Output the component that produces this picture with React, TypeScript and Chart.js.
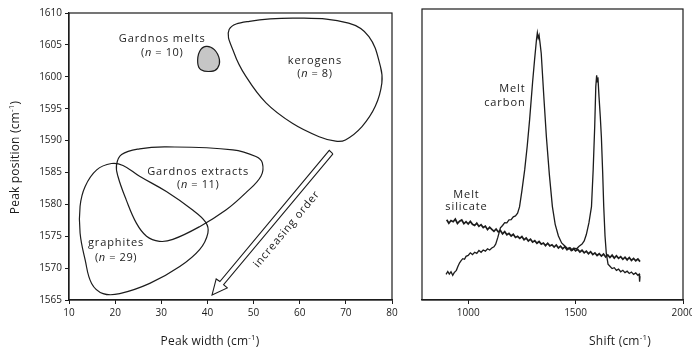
import React, { useEffect, useRef } from "react";
import { Chart, registerables } from "chart.js";
Chart.register(...registerables);

const FONT = '"Open Sans", "DejaVu Sans", sans-serif';
const INK = "#1c1c1c";

// ---------- Left panel data (peak width vs peak position) ----------
const widthTicks = [10, 20, 30, 40, 50, 60, 70, 80];
const positionTicks = [1565, 1570, 1575, 1580, 1585, 1590, 1595, 1600, 1605, 1610];

const kerogensOutline: [number, number][] = [
  [44.7, 1607.4], [49.1, 1608.7], [59.9, 1609.2], [70.6, 1608.4], [75.0, 1606.3],
  [77.5, 1601.6], [77.8, 1599.0], [76.4, 1595.4], [73.5, 1592.2], [69.9, 1590.1],
  [67.8, 1589.9], [64.2, 1590.6], [58.4, 1592.7], [52.7, 1595.9], [48.3, 1600.1],
  [45.8, 1603.7],
];
const meltsOutline: [number, number][] = [
  [39.7, 1604.77], [41.5, 1604.25], [42.6, 1602.68], [42.2, 1601.37],
  [40.8, 1600.85], [38.6, 1601.1], [37.9, 1602.15], [38.3, 1603.98],
];
const extractsOutline: [number, number][] = [
  [20.3, 1586.2], [21.4, 1587.8], [25.3, 1588.7], [31.1, 1589.0], [45.5, 1588.55],
  [50.5, 1587.5], [51.9, 1586.5], [51.6, 1584.4], [48.3, 1581.8], [44.0, 1579.1],
  [38.3, 1576.5], [32.5, 1574.5], [29.6, 1574.2], [26.8, 1575.0], [24.6, 1577.05],
  [22.4, 1580.7], [20.6, 1584.4],
];
const graphitesOutline: [number, number][] = [
  [19.2, 1586.4], [16.0, 1585.4], [13.5, 1582.8], [12.4, 1579.7], [12.4, 1575.5],
  [13.5, 1571.3], [14.9, 1567.6], [17.4, 1566.0], [21.0, 1566.0], [27.5, 1567.6],
  [34.0, 1570.25], [38.3, 1572.9], [40.1, 1575.5], [39.6, 1577.2], [36.8, 1579.1],
  [31.1, 1582.0], [25.3, 1584.4], [21.7, 1586.1],
];
const arrowOutline: [number, number][] = [
  [67.2, 1587.9], [43.5, 1567.4], [44.3, 1566.9], [41.0, 1565.8],
  [41.9, 1568.3], [42.7, 1567.9], [66.4, 1588.46],
];

// ---------- Right panel data (Raman spectra) ----------
const shiftTicks = [1000, 1500, 2000];
const meltCarbon: [number, number][] = [
  [897, 8.8], [905, 9.8], [912, 8.9], [920, 9.7], [928, 8.5], [935, 9.4], [945, 10.2],
  [952, 11.5], [960, 12.8], [968, 13.6], [975, 14.2], [983, 14.0], [990, 15.0],
  [1000, 15.3], [1010, 16.2], [1020, 15.6], [1030, 16.4], [1040, 16.0], [1050, 17.0],
  [1060, 16.4], [1070, 17.2], [1080, 16.8], [1090, 17.6], [1100, 17.2], [1110, 17.9],
  [1120, 18.3], [1128, 19.2], [1138, 21.5], [1150, 24.8], [1160, 25.6], [1170, 26.6],
  [1180, 26.5], [1190, 27.5], [1200, 27.6], [1210, 28.6], [1220, 28.9], [1230, 29.8],
  [1239, 32.0], [1250, 37.5], [1263, 44.7], [1275, 53.0], [1286, 62.0], [1300, 75.0],
  [1309, 82.5], [1318, 89.5], [1322, 91.8], [1326, 90.0], [1330, 91.0], [1335, 88.0],
  [1340, 84.8], [1352, 70.0], [1364, 56.1], [1378, 43.0], [1392, 32.1], [1405, 26.0],
  [1420, 22.0], [1435, 19.6], [1445, 18.9], [1455, 18.2], [1465, 17.5], [1475, 17.9],
  [1485, 17.1], [1495, 17.8], [1505, 17.6], [1515, 18.4], [1530, 19.2], [1540, 20.3],
  [1550, 22.5], [1562, 26.5], [1574, 32.1], [1582, 45.0], [1589, 59.6], [1594, 73.3],
  [1598, 77.2], [1601, 75.0], [1604, 76.5], [1609, 69.9], [1615, 63.0], [1620, 56.1],
  [1626, 44.0], [1631, 32.1], [1637, 22.0], [1643, 16.0], [1651, 12.3], [1660, 11.6],
  [1670, 10.8], [1680, 11.1], [1690, 10.2], [1700, 10.6], [1710, 9.7], [1720, 10.2],
  [1730, 9.4], [1740, 9.9], [1750, 9.1], [1760, 9.6], [1770, 8.8], [1780, 9.3],
  [1790, 8.5], [1796, 8.9], [1798, 6.3], [1800, 8.2],
];
const meltSilicate: [number, number][] = [
  [900, 27.6], [910, 26.4], [920, 27.3], [930, 26.9], [940, 27.8], [950, 26.3],
  [960, 27.1], [970, 27.5], [980, 26.2], [990, 26.9], [1000, 26.1], [1010, 27.0],
  [1020, 26.0], [1030, 25.6], [1040, 26.4], [1050, 25.3], [1060, 25.9], [1070, 24.9],
  [1080, 25.4], [1090, 24.2], [1100, 25.0], [1110, 24.3], [1120, 23.6], [1130, 24.4],
  [1140, 23.4], [1150, 23.9], [1160, 22.7], [1170, 23.5], [1180, 22.4], [1190, 22.9],
  [1200, 22.0], [1210, 22.6], [1220, 21.5], [1230, 21.9], [1240, 21.2], [1250, 21.8],
  [1260, 20.7], [1270, 21.3], [1280, 20.3], [1290, 20.9], [1300, 19.9], [1310, 20.4],
  [1320, 19.5], [1330, 20.1], [1340, 19.2], [1350, 19.6], [1360, 18.7], [1370, 19.5],
  [1380, 18.6], [1390, 19.0], [1400, 18.2], [1410, 18.9], [1420, 17.9], [1430, 18.5],
  [1440, 17.6], [1450, 18.3], [1460, 17.3], [1470, 17.9], [1480, 17.0], [1490, 17.7],
  [1500, 16.9], [1510, 17.4], [1520, 16.5], [1530, 17.1], [1540, 16.2], [1550, 16.8],
  [1560, 15.9], [1570, 16.6], [1580, 15.6], [1590, 16.2], [1600, 15.3], [1610, 15.9],
  [1620, 15.1], [1630, 15.8], [1640, 14.8], [1650, 15.5], [1660, 14.6], [1670, 15.4],
  [1680, 14.4], [1690, 15.2], [1700, 14.3], [1710, 14.9], [1720, 14.0], [1730, 14.7],
  [1740, 13.8], [1750, 14.6], [1760, 13.6], [1770, 14.3], [1780, 13.5], [1790, 14.1],
  [1800, 13.2],
];

// ---------- helpers ----------
type Part = { t: string; italic?: boolean; sup?: boolean };

function drawRich(
  ctx: CanvasRenderingContext2D,
  parts: Part[],
  x: number,
  y: number,
  size: number,
  spacing = 0,
  align: "center" | "left" | "right" = "center"
) {
  const fontFor = (p: Part) =>
    `${p.italic ? "italic " : ""}${p.sup ? Math.round(size * 0.68) : size}px ${FONT}`;
  (ctx as any).letterSpacing = spacing + "px";
  ctx.textAlign = "left";
  ctx.textBaseline = "middle";
  let total = 0;
  const widths = parts.map((p) => {
    ctx.font = fontFor(p);
    const w = ctx.measureText(p.t).width;
    total += w;
    return w;
  });
  let cx = align === "center" ? x - total / 2 : align === "right" ? x - total : x;
  parts.forEach((p, i) => {
    ctx.font = fontFor(p);
    ctx.fillText(p.t, cx, p.sup ? y - size * 0.38 : y);
    cx += widths[i];
  });
  (ctx as any).letterSpacing = "0px";
}

const toXY = (pts: [number, number][]) => pts.map(([x, y]) => ({ x, y }));

function closedSmooth(pts: [number, number][]) {
  const n = pts.length;
  return toXY([pts[n - 1], ...pts, pts[0], pts[1]]);
}

function outlineDataset(pts: [number, number][], fillColor?: string) {
  const data = closedSmooth(pts);
  const last = data.length - 1;
  return {
    data,
    showLine: true,
    pointRadius: 0,
    borderColor: INK,
    borderWidth: 1.2,
    tension: 0.4,
    fill: fillColor ? "shape" : false,
    backgroundColor: fillColor || "rgba(0,0,0,0)",
    segment: {
      borderColor: (c: any) =>
        c.p0DataIndex === 0 || c.p1DataIndex === last ? "rgba(0,0,0,0)" : undefined,
    },
  };
}

const framePlugin = {
  id: "frame",
  afterDatasetsDraw(chart: any) {
    const { ctx, chartArea } = chart;
    const { left, top, right, bottom } = chartArea;
    ctx.save();
    ctx.strokeStyle = INK;
    ctx.lineWidth = 1.2;
    ctx.strokeRect(left, top, right - left, bottom - top);
    ctx.restore();
  },
};

const leftTextPlugin = {
  id: "leftText",
  afterDraw(chart: any) {
    const { ctx, scales } = chart;
    const X = (v: number) => scales.x.getPixelForValue(v);
    const Y = (v: number) => scales.y.getPixelForValue(v);
    ctx.save();
    ctx.fillStyle = INK;
    const label = (a: string, n: string, x: number, y1: number, y2: number) => {
      drawRich(ctx, [{ t: a }], X(x), Y(y1), 11, 0.9);
      drawRich(ctx, [{ t: "(" }, { t: "n", italic: true }, { t: " = " + n + ")" }], X(x), Y(y2), 11, 0.6);
    };
    label("Gardnos melts", "10", 30.2, 1605.9, 1603.7);
    label("kerogens", "8", 63.3, 1602.5, 1600.4);
    label("Gardnos extracts", "11", 38.0, 1585.1, 1583.0);
    label("graphites", "29", 20.2, 1573.9, 1571.6);

    ctx.save();
    ctx.translate(X(57.2), Y(1576.1));
    ctx.rotate((-50 * Math.PI) / 180);
    drawRich(ctx, [{ t: "increasing order" }], 0, 0, 11, 0.8);
    ctx.restore();

    const ca = chart.chartArea;
    drawRich(ctx, [{ t: "Peak width (cm" }, { t: "-1", sup: true }, { t: ")" }], 210, 342, 12, 0.2);
    ctx.save();
    ctx.translate(16, (ca.top + ca.bottom) / 2 + 1);
    ctx.rotate(-Math.PI / 2);
    drawRich(ctx, [{ t: "Peak position (cm" }, { t: "-1", sup: true }, { t: ")" }], 0, 0, 12, 0.2);
    ctx.restore();
    ctx.restore();
  },
};

const rightTextPlugin = {
  id: "rightText",
  afterDraw(chart: any) {
    const { ctx, scales } = chart;
    const X = (v: number) => scales.x.getPixelForValue(v);
    const Y = (v: number) => scales.y.getPixelForValue(v);
    ctx.save();
    ctx.fillStyle = INK;
    drawRich(ctx, [{ t: "Melt" }], X(1267), Y(72.4), 11, 0.9, "right");
    drawRich(ctx, [{ t: "carbon" }], X(1267), Y(67.8), 11, 0.9, "right");
    drawRich(ctx, [{ t: "Melt" }], X(992), Y(36.3), 11, 0.9);
    drawRich(ctx, [{ t: "silicate" }], X(992), Y(31.9), 11, 0.9);
    drawRich(ctx, [{ t: "Shift (cm" }, { t: "-1", sup: true }, { t: ")" }], 220, 342, 12, 0.2);
    ctx.restore();
  },
};

const tickFont = { size: 10, family: FONT };
const plainTick = (v: any) => String(v);

function LeftPanel() {
  const ref = useRef<HTMLCanvasElement>(null);
  useEffect(() => {
    const chart = new Chart(ref.current!, {
      type: "scatter",
      data: {
        datasets: [
          outlineDataset(meltsOutline, "#c6c6c6"),
          outlineDataset(kerogensOutline),
          outlineDataset(extractsOutline),
          outlineDataset(graphitesOutline),
          {
            data: toXY([...arrowOutline, arrowOutline[0]]),
            showLine: true,
            pointRadius: 0,
            borderColor: INK,
            borderWidth: 1.1,
            tension: 0,
            fill: false,
          },
        ] as any,
      },
      options: {
        responsive: false,
        animation: false,
        devicePixelRatio: 1,
        layout: { padding: { top: 13, right: 8, left: 0, bottom: 0 } },
        plugins: { legend: { display: false }, tooltip: { enabled: false } },
        scales: {
          x: {
            type: "linear",
            min: widthTicks[0],
            max: widthTicks[widthTicks.length - 1],
            afterBuildTicks: (s: any) => {
              s.ticks = widthTicks.map((v) => ({ value: v }));
            },
            ticks: { font: tickFont, color: INK, padding: 3, maxRotation: 0, callback: plainTick },
            grid: { drawOnChartArea: false, tickLength: 4, color: INK, lineWidth: 1 },
            border: { color: INK, width: 1.2 },
            afterFit: (s: any) => {
              s.height = 51;
              s.paddingLeft = 0;
              s.paddingRight = 0;
            },
          },
          y: {
            type: "linear",
            min: positionTicks[0],
            max: positionTicks[positionTicks.length - 1],
            afterBuildTicks: (s: any) => {
              s.ticks = positionTicks.map((v) => ({ value: v }));
            },
            ticks: { font: tickFont, color: INK, padding: 3, callback: plainTick },
            grid: { drawOnChartArea: false, tickLength: 4, color: INK, lineWidth: 1 },
            border: { color: INK, width: 1.2 },
            afterFit: (s: any) => {
              s.width = 69;
              s.paddingTop = 0;
              s.paddingBottom = 0;
            },
          },
        },
      },
      plugins: [framePlugin, leftTextPlugin],
    });
    return () => chart.destroy();
  }, []);
  return (
    <canvas
      ref={ref}
      width={400}
      height={351}
      style={{ position: "absolute", left: 0, top: 0, width: 400, height: 351 }}
    />
  );
}

function RightPanel() {
  const ref = useRef<HTMLCanvasElement>(null);
  useEffect(() => {
    const chart = new Chart(ref.current!, {
      type: "scatter",
      data: {
        datasets: [
          {
            data: toXY(meltSilicate),
            showLine: true,
            pointRadius: 0,
            borderColor: INK,
            borderWidth: 1.7,
            tension: 0,
          },
          {
            data: toXY(meltCarbon),
            showLine: true,
            pointRadius: 0,
            borderColor: INK,
            borderWidth: 1.3,
            tension: 0,
          },
        ] as any,
      },
      options: {
        responsive: false,
        animation: false,
        devicePixelRatio: 1,
        layout: { padding: { top: 9, right: 9, left: 22, bottom: 0 } },
        plugins: { legend: { display: false }, tooltip: { enabled: false } },
        scales: {
          x: {
            type: "linear",
            min: 785,
            max: 2000,
            afterBuildTicks: (s: any) => {
              s.ticks = shiftTicks.map((v) => ({ value: v }));
            },
            ticks: { font: tickFont, color: INK, padding: 3, maxRotation: 0, callback: plainTick },
            grid: { drawOnChartArea: false, tickLength: 4, color: INK, lineWidth: 1 },
            border: { color: INK, width: 1.2 },
            afterFit: (s: any) => {
              s.height = 51;
              s.paddingLeft = 0;
              s.paddingRight = 0;
            },
          },
          y: { type: "linear", display: false, min: 0, max: 100 },
        },
      },
      plugins: [framePlugin, rightTextPlugin],
    });
    return () => chart.destroy();
  }, []);
  return (
    <canvas
      ref={ref}
      width={292}
      height={351}
      style={{ position: "absolute", left: 400, top: 0, width: 292, height: 351 }}
    />
  );
}

export default function App() {
  return (
    <div
      style={{
        position: "absolute",
        left: 0,
        top: 0,
        width: 692,
        height: 351,
        background: "#fff",
        overflow: "hidden",
      }}
    >
      <LeftPanel />
      <RightPanel />
    </div>
  );
}
